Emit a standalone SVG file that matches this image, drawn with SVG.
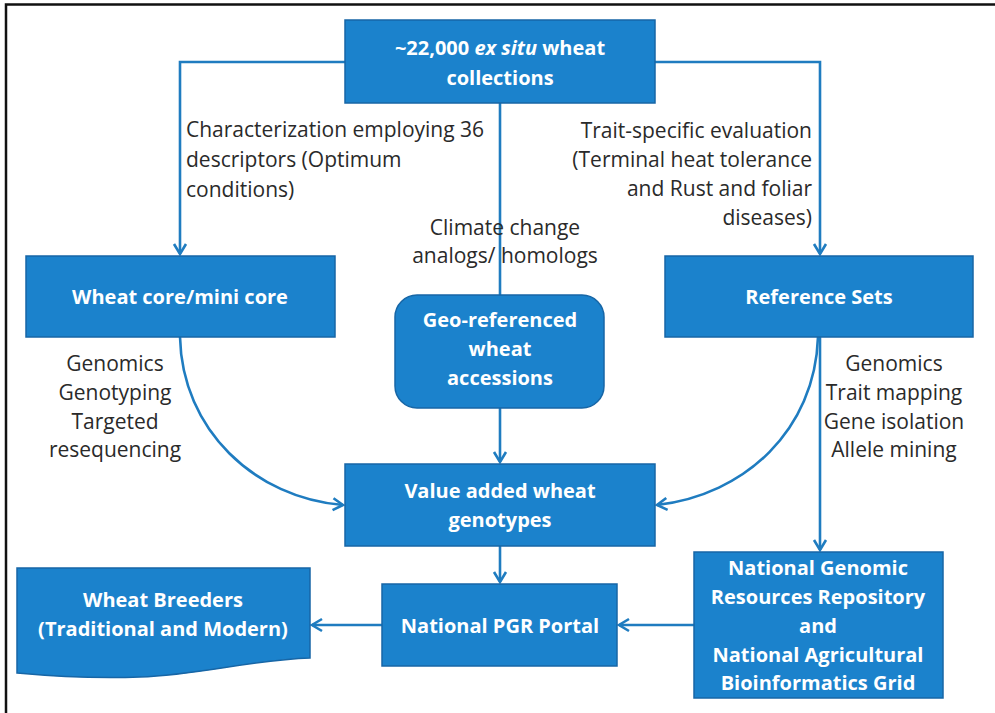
<svg xmlns="http://www.w3.org/2000/svg" width="995" height="713" viewBox="0 0 995 713">
<defs>
<marker id="arr" markerUnits="userSpaceOnUse" markerWidth="16" markerHeight="16" viewBox="0 0 16 16" refX="12" refY="8" orient="auto">
<path d="M2,2 L12,8 L2,14" fill="none" stroke="#1f7cc0" stroke-width="2.6"/>
</marker>
<style>
.box{fill:#1b82cc;stroke:#1766a6;stroke-width:1.5}
.bt{font-family:"Open Sans","Noto Sans",sans-serif;font-weight:bold;font-size:20px;fill:#ffffff;text-anchor:middle}
.lb{font-family:"Open Sans","Noto Sans",sans-serif;font-size:21px;fill:#2a2a2a}
.c{fill:none;stroke:#1f7cc0;stroke-width:2.6}
</style>
</defs>
<rect x="0" y="0" width="995" height="713" fill="#ffffff"/>
<path d="M6,713 V4.5 H995" fill="none" stroke="#111" stroke-width="2.5"/>

<g id="connectors">
<path class="c" d="M345,62 H180 V254" marker-end="url(#arr)"/>
<path class="c" d="M655,62 H820 V254" marker-end="url(#arr)"/>
<path class="c" d="M500,103 V295"/>
<path class="c" d="M500,408 V462" marker-end="url(#arr)"/>
<path class="c" d="M500,546 V582" marker-end="url(#arr)"/>
<path class="c" d="M180,337 C182,430 255,498 343,505" marker-end="url(#arr)"/>
<path class="c" d="M818,337 C815,430 745,495 657,505" marker-end="url(#arr)"/>
<path class="c" d="M820,337 V550" marker-end="url(#arr)"/>
<path class="c" d="M694,625 H619" marker-end="url(#arr)"/>
<path class="c" d="M382,625 H312" marker-end="url(#arr)"/>
</g>

<g id="n-collections">
<rect class="box" x="345" y="20" width="310" height="83"/>
<text class="bt" x="500" y="55">~22,000 <tspan font-style="italic">ex situ</tspan> wheat</text>
<text class="bt" x="500" y="85">collections</text>
</g>

<g id="n-core">
<rect class="box" x="26" y="256" width="309" height="81"/>
<text class="bt" x="180" y="304">Wheat core/mini core</text>
</g>

<g id="n-refsets">
<rect class="box" x="665" y="256" width="308" height="81"/>
<text class="bt" x="819" y="304">Reference Sets</text>
</g>

<g id="n-geo">
<rect class="box" x="395" y="295" width="209" height="113" rx="22" ry="22"/>
<text class="bt" x="500" y="327">Geo-referenced</text>
<text class="bt" x="500" y="356">wheat</text>
<text class="bt" x="500" y="385">accessions</text>
</g>

<g id="n-value">
<rect class="box" x="345" y="464" width="310" height="82"/>
<text class="bt" x="500" y="498">Value added wheat</text>
<text class="bt" x="500" y="527">genotypes</text>
</g>

<g id="n-pgr">
<rect class="box" x="382" y="584" width="235" height="82"/>
<text class="bt" x="500" y="633">National PGR Portal</text>
</g>

<g id="n-breeders">
<path class="box" d="M17,568 H310 V658 C250,660 200,675 140,677 C90,679 50,676 17,673 Z"/>
<text class="bt" x="163" y="607">Wheat Breeders</text>
<text class="bt" x="163" y="636">(Traditional and Modern)</text>
</g>

<g id="n-ngr">
<rect class="box" x="694" y="552" width="249" height="146"/>
<text class="bt" x="818" y="575">National Genomic</text>
<text class="bt" x="818" y="604">Resources Repository</text>
<text class="bt" x="818" y="633">and</text>
<text class="bt" x="818" y="662">National Agricultural</text>
<text class="bt" x="818" y="690">Bioinformatics Grid</text>
</g>

<g id="labels">
<text class="lb" x="186" y="137">Characterization employing 36</text>
<text class="lb" x="186" y="167">descriptors (Optimum</text>
<text class="lb" x="186" y="197">conditions)</text>
<text class="lb" x="505" y="235" text-anchor="middle">Climate change</text>
<text class="lb" x="505" y="263" text-anchor="middle">analogs/ homologs</text>
<text class="lb" x="812" y="138" text-anchor="end">Trait-specific evaluation</text>
<text class="lb" x="812" y="167" text-anchor="end">(Terminal heat tolerance</text>
<text class="lb" x="812" y="196" text-anchor="end">and Rust and foliar</text>
<text class="lb" x="812" y="225" text-anchor="end">diseases)</text>
<text class="lb" x="115" y="371" text-anchor="middle">Genomics</text>
<text class="lb" x="115" y="400" text-anchor="middle">Genotyping</text>
<text class="lb" x="115" y="429" text-anchor="middle">Targeted</text>
<text class="lb" x="115" y="457" text-anchor="middle">resequencing</text>
<text class="lb" x="894" y="371" text-anchor="middle">Genomics</text>
<text class="lb" x="894" y="400" text-anchor="middle">Trait mapping</text>
<text class="lb" x="894" y="429" text-anchor="middle">Gene isolation</text>
<text class="lb" x="894" y="457" text-anchor="middle">Allele mining</text>
</g>
</svg>
